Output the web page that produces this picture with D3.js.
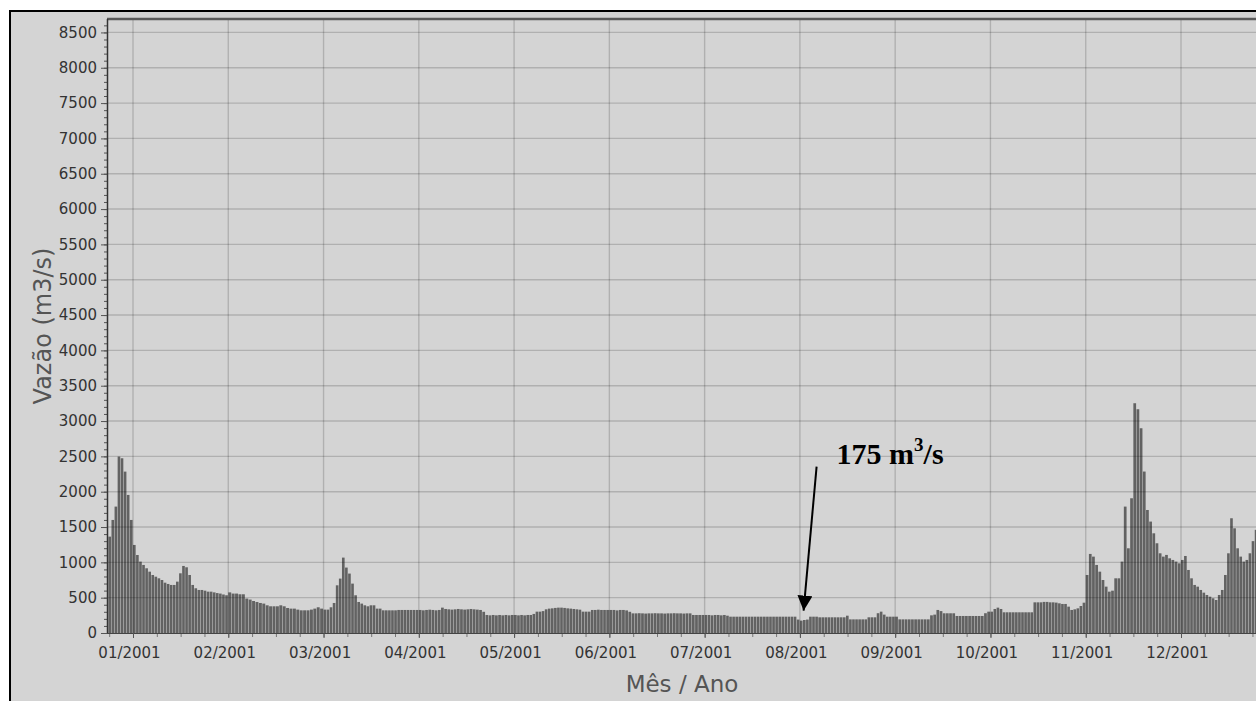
<!DOCTYPE html>
<html><head><meta charset="utf-8">
<script src="https://cdn.jsdelivr.net/npm/d3@7"></script>
<style>html,body{margin:0;padding:0;background:#fff;overflow:hidden}</style>
</head><body>
<svg id="chart" width="1256" height="701"></svg>
<script>
// ---------- DATA ----------
const monthLabels = ["01/2001","02/2001","03/2001","04/2001","05/2001","06/2001",
                     "07/2001","08/2001","09/2001","10/2001","11/2001","12/2001"];
const yTickValues = [0,500,1000,1500,2000,2500,3000,3500,4000,4500,5000,5500,6000,6500,7000,7500,8000,8500];
const yTitle = "Vazão (m3/s)";
const xTitle = "Mês / Ano";

// daily discharge (m3/s)
const flowDec2000 = [1364,1600,1789,2497,2473,2284,1954,1600];           // 24..31 Dec 2000
const flowJan = [1246,1104,1010,963,916,868,821,797,774,750,712,694,680,680,727,845,949,930,821,680,633,609,609,599,585,585,575,565,558,545,534];
const flowFeb = [575,558,558,548,548,487,473,453,439,425,416,392,378,378,378,392,378,354,345,345,331,321,321,321,331,345,364,345];
const flowMar = [331,331,364,425,675,770,1067,926,841,699,534,439,416,392,378,392,392,345,345,321,321,321,321,321,326,326,326,326,326,326,326];
const flowApr = [326,321,326,330,326,321,326,359,340,335,331,335,340,335,331,335,340,335,331,326,300,255,250,255,250,255,250,255,250,255];
const flowMay = [255,250,255,250,255,255,270,302,302,310,335,345,349,355,359,359,355,349,345,340,335,330,302,302,302,326,326,330,326,326,326];
const flowJun = [326,326,320,326,326,320,300,278,278,280,278,275,278,278,280,278,278,275,278,278,280,278,278,275,278,278,255,255,255,255];
const flowJul = [255,255,250,255,255,250,255,245,231,231,231,231,231,231,231,231,231,231,231,231,231,231,231,231,231,231,231,231,231,231,190];
const flowAug = [175,184,190,231,231,231,222,222,222,222,222,222,222,222,222,245,193,193,193,193,193,193,222,222,222,280,302,260,231,231,231];
const flowSep = [231,193,193,193,193,193,193,193,193,193,193,250,260,326,310,279,279,279,279,241,241,241,241,241,241,241,241,241,280,302];
const flowOct = [302,340,359,340,293,293,293,293,293,293,293,293,293,293,434,434,434,440,440,434,434,430,420,411,411,373,326,335,349,382,429];
const flowNov = [821,1119,1081,963,868,750,656,585,599,774,774,1010,1789,1199,1907,3252,3167,2898,2285,1741,1577,1411,1270,1128,1081,1105,1057,1034,1010,986];
const flowDec = [1034,1090,892,774,680,656,609,571,538,514,491,467,538,609,821,1128,1624,1482,1199,1081,1010,1034,1128,1300,1460];

const annotationValue = 175;

// ---------- BUILD ----------
const monthSeries = [
  {year:2000, month:11, firstDay:24, values:flowDec2000},
  {year:2001, month:0,  firstDay:1, values:flowJan},
  {year:2001, month:1,  firstDay:1, values:flowFeb},
  {year:2001, month:2,  firstDay:1, values:flowMar},
  {year:2001, month:3,  firstDay:1, values:flowApr},
  {year:2001, month:4,  firstDay:1, values:flowMay},
  {year:2001, month:5,  firstDay:1, values:flowJun},
  {year:2001, month:6,  firstDay:1, values:flowJul},
  {year:2001, month:7,  firstDay:1, values:flowAug},
  {year:2001, month:8,  firstDay:1, values:flowSep},
  {year:2001, month:9,  firstDay:1, values:flowOct},
  {year:2001, month:10, firstDay:1, values:flowNov},
  {year:2001, month:11, firstDay:1, values:flowDec}
];
const daily = [];
monthSeries.forEach(s => {
  const mi = (s.year - 2001) * 12 + s.month;
  const dim = new Date(s.year, s.month + 1, 0).getDate();
  s.values.forEach((v, i) => {
    const day = s.firstDay + i;
    daily.push({p0: mi + (day - 1) / dim, p1: mi + day / dim, v});
  });
});

const svg = d3.select("#chart");
const W = 1256, H = 701;
const plotTop = 19, plotBottom = 633;

const x = d3.scaleLinear().domain([0, 11]).range([133, 1181]);
const plotLeft = 107;
const xMin = x.invert(plotLeft), xMax = 12.3;
const plotRight = x(xMax);
const y = d3.scaleLinear().domain([0, 8690]).range([plotBottom, plotTop]);

// background + frame
svg.append("rect").attr("width", W).attr("height", H).attr("fill", "#fff");
svg.append("rect").attr("x", 10).attr("y", 11).attr("width", W + 50).attr("height", H + 50)
   .attr("fill", "#d4d4d4").attr("stroke", "#000").attr("stroke-width", 2);

svg.append("defs").append("clipPath").attr("id", "clip")
   .append("rect").attr("x", plotLeft).attr("y", plotTop)
   .attr("width", plotRight - plotLeft).attr("height", plotBottom - plotTop);

const plot = svg.append("g").attr("clip-path", "url(#clip)");

// bars
plot.selectAll("rect.bar").data(daily).join("rect")
  .attr("class", "bar")
  .attr("x", d => x(d.p0))
  .attr("width", d => Math.max(0.5, x(d.p1) - x(d.p0) - 0.45))
  .attr("y", d => y(d.v))
  .attr("height", d => y(0) - y(d.v))
  .attr("fill", "#626262");

// gridlines (drawn over bars, translucent)
plot.selectAll("line.hg").data(yTickValues.filter(v => v > 0)).join("line")
  .attr("x1", plotLeft).attr("x2", plotRight)
  .attr("y1", d => y(d)).attr("y2", d => y(d))
  .attr("stroke", "#000").attr("stroke-opacity", 0.17).attr("stroke-width", 1.4);
plot.selectAll("line.vg").data(d3.range(0, 13)).join("line")
  .attr("x1", d => x(d)).attr("x2", d => x(d))
  .attr("y1", plotTop).attr("y2", plotBottom)
  .attr("stroke", "#000").attr("stroke-opacity", 0.17).attr("stroke-width", 1.4);

// top border of plot
svg.append("line").attr("x1", plotLeft).attr("x2", W + 10).attr("y1", plotTop).attr("y2", plotTop)
   .attr("stroke", "#5a5a5a").attr("stroke-width", 2.5);

// Y axis
const yMinor = d3.range(0, 8700, 100);
const yMinorAxis = d3.axisLeft(y).tickValues(yMinor).tickSize(3).tickFormat("");
svg.append("g").attr("transform", `translate(${plotLeft},0)`).call(yMinorAxis)
  .call(g => g.select(".domain").remove())
  .call(g => g.selectAll("line").attr("stroke", "#555"));
const yAxis = d3.axisLeft(y).tickValues(yTickValues).tickFormat(d3.format("d"))
  .tickSize(6).tickPadding(4).tickSizeOuter(0);
svg.append("g").attr("transform", `translate(${plotLeft},0)`).call(yAxis)
  .call(g => g.select(".domain").attr("stroke", "#333").attr("stroke-width", 1.5)
        .attr("d", `M0.5,${plotTop}V${plotBottom}`))
  .call(g => g.selectAll(".tick line").attr("stroke", "#555"))
  .call(g => g.selectAll("text").attr("font-family", "DejaVu Sans").attr("font-size", 15)
        .attr("fill", "#333"));

// X axis
const xMinor = d3.range(Math.ceil(xMin * 4), Math.floor(xMax * 4) + 1).map(k => k / 4);
svg.append("g").attr("transform", `translate(0,${plotBottom})`)
  .call(d3.axisBottom(x).tickValues(xMinor).tickSize(4).tickFormat(""))
  .call(g => g.select(".domain").remove())
  .call(g => g.selectAll("line").attr("stroke", "#777"));
const xAxis = d3.axisBottom(x).tickValues(d3.range(0, 12)).tickFormat(i => monthLabels[i])
  .tickSize(5).tickSizeOuter(0);
svg.append("g").attr("transform", `translate(0,${plotBottom})`).call(xAxis)
  .call(g => g.select(".domain").attr("stroke", "#444").attr("d", `M${plotLeft},0.5H${plotRight}`))
  .call(g => g.selectAll(".tick line").attr("stroke", "#555"))
  .call(g => g.selectAll("text").attr("font-family", "DejaVu Sans").attr("font-size", 15)
        .attr("fill", "#333").attr("y", 25).attr("dy", 0).attr("dx", -4));

// axis titles
svg.append("text").attr("transform", `translate(51,${(plotTop + plotBottom) / 2}) rotate(-90)`)
  .attr("text-anchor", "middle").attr("font-family", "DejaVu Sans").attr("font-size", 24)
  .attr("fill", "#555").text(yTitle);
svg.append("text").attr("x", 682).attr("y", 692).attr("text-anchor", "middle")
  .attr("font-family", "DejaVu Sans").attr("font-size", 23).attr("fill", "#555").text(xTitle);

// annotation arrow + label
const tipX = x(7 + 1.2 / 31), tipY = y(annotationValue) - 10;
const startX = tipX + 13, startY = tipY - 144;
svg.append("defs").append("marker").attr("id", "arr").attr("viewBox", "0 0 16 15")
  .attr("refX", 15).attr("refY", 7.5).attr("markerWidth", 16).attr("markerHeight", 15)
  .attr("markerUnits", "userSpaceOnUse").attr("orient", "auto")
  .append("path").attr("d", "M0,0L15,7.5L0,15Z").attr("fill", "#000");
svg.append("line").attr("x1", startX).attr("y1", startY).attr("x2", tipX).attr("y2", tipY)
  .attr("stroke", "#000").attr("stroke-width", 2).attr("marker-end", "url(#arr)");
const lab = svg.append("text").attr("x", startX + 20).attr("y", startY - 3)
  .attr("font-family", "Liberation Serif").attr("font-weight", "bold").attr("font-size", 30).attr("fill", "#000");
lab.append("tspan").text(annotationValue + " m");
lab.append("tspan").attr("font-size", 19).attr("dy", -13).text("3");
lab.append("tspan").attr("dy", 13).text("/s");
</script>
</body></html>
